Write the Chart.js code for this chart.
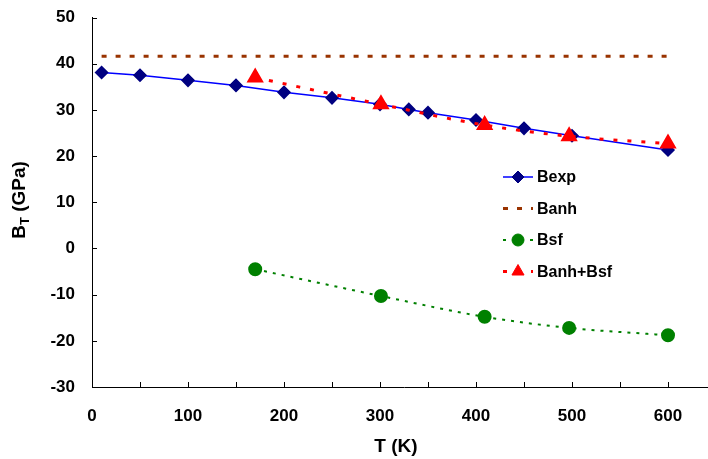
<!DOCTYPE html>
<html>
<head>
<meta charset="utf-8">
<script src="https://cdn.jsdelivr.net/npm/chart.js@4"></script>
<style>
  html, body { margin: 0; padding: 0; background: #fff; overflow: hidden; }
  #wrap { width: 726px; height: 459px; }
</style>
</head>
<body>
<div id="wrap"><canvas id="chart" width="726" height="459"></canvas></div>
<script>
// values
const bexpT = [10, 50, 100, 150, 200, 250, 300, 330, 350, 400, 450, 500, 600];
const bexpB = [38.1, 37.5, 36.4, 35.3, 33.8, 32.6, 31.2, 30.1, 29.4, 27.8, 26.0, 24.4, 21.3];

const banhT = [10, 600];
const banhB = [41.6, 41.6];

const bsfT = [170, 301, 409, 497, 600];
const bsfB = [-4.5, -10.3, -14.8, -17.2, -18.8];

const sumT = [170, 301, 409, 497, 600];
const sumB = [37.0, 31.2, 26.7, 24.3, 22.7];

const seriesNames = ['Bexp', 'Banh', 'Bsf', 'Banh+Bsf'];

const xLabelTicks = [0, 100, 200, 300, 400, 500, 600];
const yLabelTicks = [-30, -20, -10, 0, 10, 20, 30, 40, 50];

const FONT = '"Liberation Sans", Arial, sans-serif';

function pts(xs, ys) {
    return xs.map((x, i) => ({ x: x, y: ys[i] }));
}

// small ticks pointing into the plot, like the original
const innerTicks = {
    id: 'innerTicks',
    beforeDatasetsDraw(chart) {
        const ctx = chart.ctx;
        const area = chart.chartArea;
        const xs = chart.scales.x, ys = chart.scales.y;
        ctx.save();
        ctx.strokeStyle = '#000';
        ctx.lineWidth = 1;
        ctx.beginPath();
        xs.ticks.forEach(t => {
            const px = Math.round(xs.getPixelForValue(t.value)) + 0.5;
            ctx.moveTo(px, area.bottom);
            ctx.lineTo(px, area.bottom - 5);
        });
        ys.ticks.forEach(t => {
            const py = Math.round(ys.getPixelForValue(t.value)) + 0.5;
            ctx.moveTo(area.left, py);
            ctx.lineTo(area.left + 5, py);
        });
        ctx.stroke();
        ctx.restore();
    }
};

// axis titles (y one has a subscript T)
const axisTitles = {
    id: 'axisTitles',
    afterDraw(chart) {
        const ctx = chart.ctx;
        const big = 'bold 19px ' + FONT, small = 'bold 13px ' + FONT;
        ctx.save();
        ctx.fillStyle = '#000';
        ctx.textBaseline = 'middle';
        ctx.textAlign = 'center';
        ctx.font = big;
        ctx.fillText('T (K)', 396, 447);

        ctx.textAlign = 'left';
        ctx.translate(20, 200);
        ctx.rotate(-Math.PI / 2);
        const wB = ctx.measureText('B').width;
        const wRest = ctx.measureText(' (GPa)').width;
        ctx.font = small;
        const wT = ctx.measureText('T').width;
        let x = -(wB + wT + wRest) / 2;
        ctx.font = big;
        ctx.fillText('B', x, 0);
        x += wB;
        ctx.font = small;
        ctx.fillText('T', x, 5);
        x += wT;
        ctx.font = big;
        ctx.fillText(' (GPa)', x, 0);
        ctx.restore();
    }
};

// legend inside the plot, line sample + marker
const insideLegend = {
    id: 'insideLegend',
    afterDraw(chart) {
        const ctx = chart.ctx;
        const rows = [177, 208.5, 240, 271.5];
        const x0 = 503, x1 = 533;
        ctx.save();
        seriesNames.forEach((name, i) => {
            const ds = chart.data.datasets.find(d => d.label === name);
            const y = rows[i];
            ctx.strokeStyle = ds.borderColor;
            ctx.lineWidth = ds.borderWidth;
            ctx.setLineDash(ds.borderDash || []);
            ctx.beginPath();
            ctx.moveTo(x0, y);
            ctx.lineTo(x1, y);
            ctx.stroke();
            ctx.setLineDash([]);
            if (ds.pointRadius > 0) {
                ctx.fillStyle = ds.pointBackgroundColor;
                ctx.strokeStyle = ds.pointBorderColor;
                ctx.lineWidth = 1;
                Chart.helpers.drawPoint(ctx, {
                    pointStyle: ds.pointStyle,
                    radius: ds.pointRadius,
                    borderWidth: 1
                }, (x0 + x1) / 2, y);
            }
            ctx.fillStyle = '#000';
            ctx.font = 'bold 16px ' + FONT;
            ctx.textBaseline = 'middle';
            ctx.fillText(name, 537, y + 1);
        });
        ctx.restore();
    }
};

const ctx = document.getElementById('chart').getContext('2d');
const myChart = new Chart(ctx, {
    type: 'scatter',
    data: {
        datasets: [
            {
                label: 'Bexp',
                data: pts(bexpT, bexpB),
                showLine: true,
                borderColor: '#0000FF',
                borderWidth: 1.5,
                pointStyle: 'rectRot',
                pointRadius: 6,
                pointBackgroundColor: '#000080',
                pointBorderColor: '#000080',
                tension: 0,
                order: 3
            },
            {
                label: 'Banh',
                data: pts(banhT, banhB),
                showLine: true,
                borderColor: '#993300',
                borderWidth: 3,
                borderDash: [5, 9],
                pointRadius: 0,
                order: 2
            },
            {
                label: 'Bsf',
                data: pts(bsfT, bsfB),
                showLine: true,
                borderColor: '#008000',
                borderWidth: 2,
                borderDash: [3, 6],
                pointStyle: 'circle',
                pointRadius: 6,
                pointBackgroundColor: '#008000',
                pointBorderColor: '#008000',
                cubicInterpolationMode: 'monotone',
                order: 1
            },
            {
                label: 'Banh+Bsf',
                data: pts(sumT, sumB),
                showLine: true,
                borderColor: '#FF0000',
                borderWidth: 3,
                borderDash: [4, 10],
                pointStyle: 'triangle',
                pointRadius: 7,
                pointBackgroundColor: '#FF0000',
                pointBorderColor: '#FF0000',
                cubicInterpolationMode: 'monotone',
                order: 0
            }
        ]
    },
    options: {
        responsive: false,
        animation: false,
        layout: { padding: { top: 17.5, right: 0, bottom: 0, left: 0 } },
        plugins: {
            legend: { display: false },
            tooltip: { enabled: false }
        },
        scales: {
            x: {
                type: 'linear',
                min: 0,
                max: 650,
                grid: { display: true, drawOnChartArea: false, drawTicks: false },
                border: { display: true, color: '#000', width: 1 },
                ticks: {
                    stepSize: 50,
                    padding: 19,
                    color: '#000',
                    font: { family: FONT, size: 17, weight: 'bold' },
                    callback: v => xLabelTicks.includes(v) ? String(v) : ''
                },
                afterFit: s => {
                    s.height = 72;
                    s.paddingLeft = 0;
                    s.paddingRight = 0;
                }
            },
            y: {
                min: -30,
                max: 50,
                grid: { display: true, drawOnChartArea: false, drawTicks: false },
                border: { display: true, color: '#000', width: 1 },
                ticks: {
                    stepSize: 5,
                    padding: 17,
                    color: '#000',
                    font: { family: FONT, size: 17, weight: 'bold' },
                    callback: v => yLabelTicks.includes(v) ? String(v) : ''
                },
                afterFit: s => {
                    s.width = 92;
                    s.paddingTop = 0;
                    s.paddingBottom = 0;
                }
            }
        }
    },
    plugins: [innerTicks, axisTitles, insideLegend]
});
myChart.update();
</script>
</body>
</html>
